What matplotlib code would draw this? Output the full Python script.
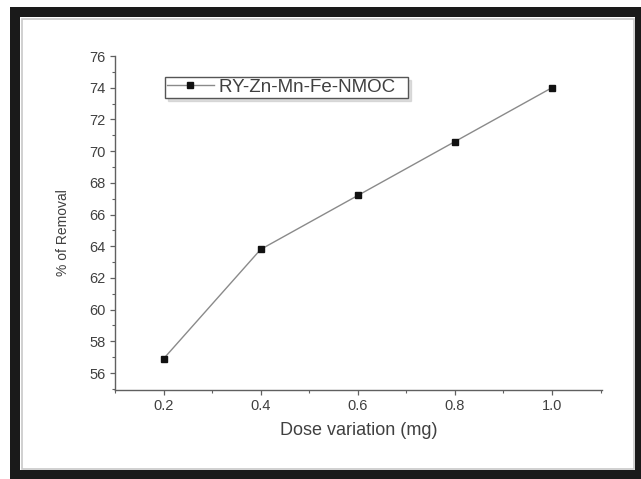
import matplotlib
matplotlib.use("Agg")
import matplotlib.pyplot as plt
from matplotlib.patches import Rectangle
from matplotlib.ticker import MultipleLocator

plt.rcParams['font.family'] = ['Liberation Sans', 'DejaVu Sans']

# dose (mg) vs % removal
dose = [0.2, 0.4, 0.6, 0.8, 1.0]
removal = [56.9, 63.8, 67.2, 70.6, 74.0]
serie_nom = "RY-Zn-Mn-Fe-NMOC"
xlab = "Dose variation (mg)"
ylab = "% of Removal"

W, H = 641, 479
fig = plt.figure(figsize=(W / 100, H / 100), dpi=100)
fig.patch.set_facecolor("white")

# cadre noir autour de la figure
fig.patches.append(Rectangle((15 / W, 4 / H), 625 / W, 463 / H, transform=fig.transFigure,
                             fill=False, edgecolor="#1a1a1a", linewidth=7.2, zorder=0))
fig.patches.append(Rectangle((21.5 / W, 10.5 / H), 612 / W, 450 / H, transform=fig.transFigure,
                             fill=False, edgecolor="#c8c8c8", linewidth=1.2, zorder=0))

ax = fig.add_axes([115 / W, 1 - 390 / H, 487 / W, 334 / H])
txt = "#404040"
ax.plot(dose, removal, color="#8a8a8a", lw=1.0, marker="s", ms=4.5,
        mfc="#111111", mec="#111111", label=serie_nom + "  ")

ax.set_xlim(0.1, 1.103)
ax.set_ylim(54.93, 76)
ax.xaxis.set_major_locator(MultipleLocator(0.2))
ax.xaxis.set_minor_locator(MultipleLocator(0.1))
ax.yaxis.set_major_locator(MultipleLocator(2))
ax.yaxis.set_minor_locator(MultipleLocator(1))
ax.set_xticks(dose)
ax.set_xticklabels(["0.2", "0.4", "0.6", "0.8", "1.0"])

for s in ["top", "right"]:
    ax.spines[s].set_visible(False)
for s in ["left", "bottom"]:
    ax.spines[s].set_color("#606060")
    ax.spines[s].set_linewidth(1.0)

ax.tick_params(which="major", direction="out", length=3.5, width=0.9, color="#606060",
               labelsize=10.5, labelcolor=txt, pad=3)
ax.tick_params(which="minor", direction="out", length=2, width=0.8, color="#606060")

ax.set_xlabel(xlab, fontsize=13, color=txt)
ax.set_ylabel(ylab, fontsize=10, color=txt)
ax.xaxis.set_label_coords(0.5, -0.096)
ax.yaxis.set_label_coords(-0.092, 0.47)

leg = ax.legend(loc="upper left", bbox_to_anchor=(165 / W, 1 - 77 / H), bbox_transform=fig.transFigure,
                fontsize=13.5, frameon=True, fancybox=False, shadow={"color": "0.75"},
                handlelength=2.5, borderpad=0.1, handletextpad=0.3, borderaxespad=0)
leg.get_frame().set_edgecolor("#555555")
leg.get_frame().set_linewidth(1.0)
for t in leg.get_texts():
    t.set_color(txt)

fig.savefig("out.png", dpi=100)
